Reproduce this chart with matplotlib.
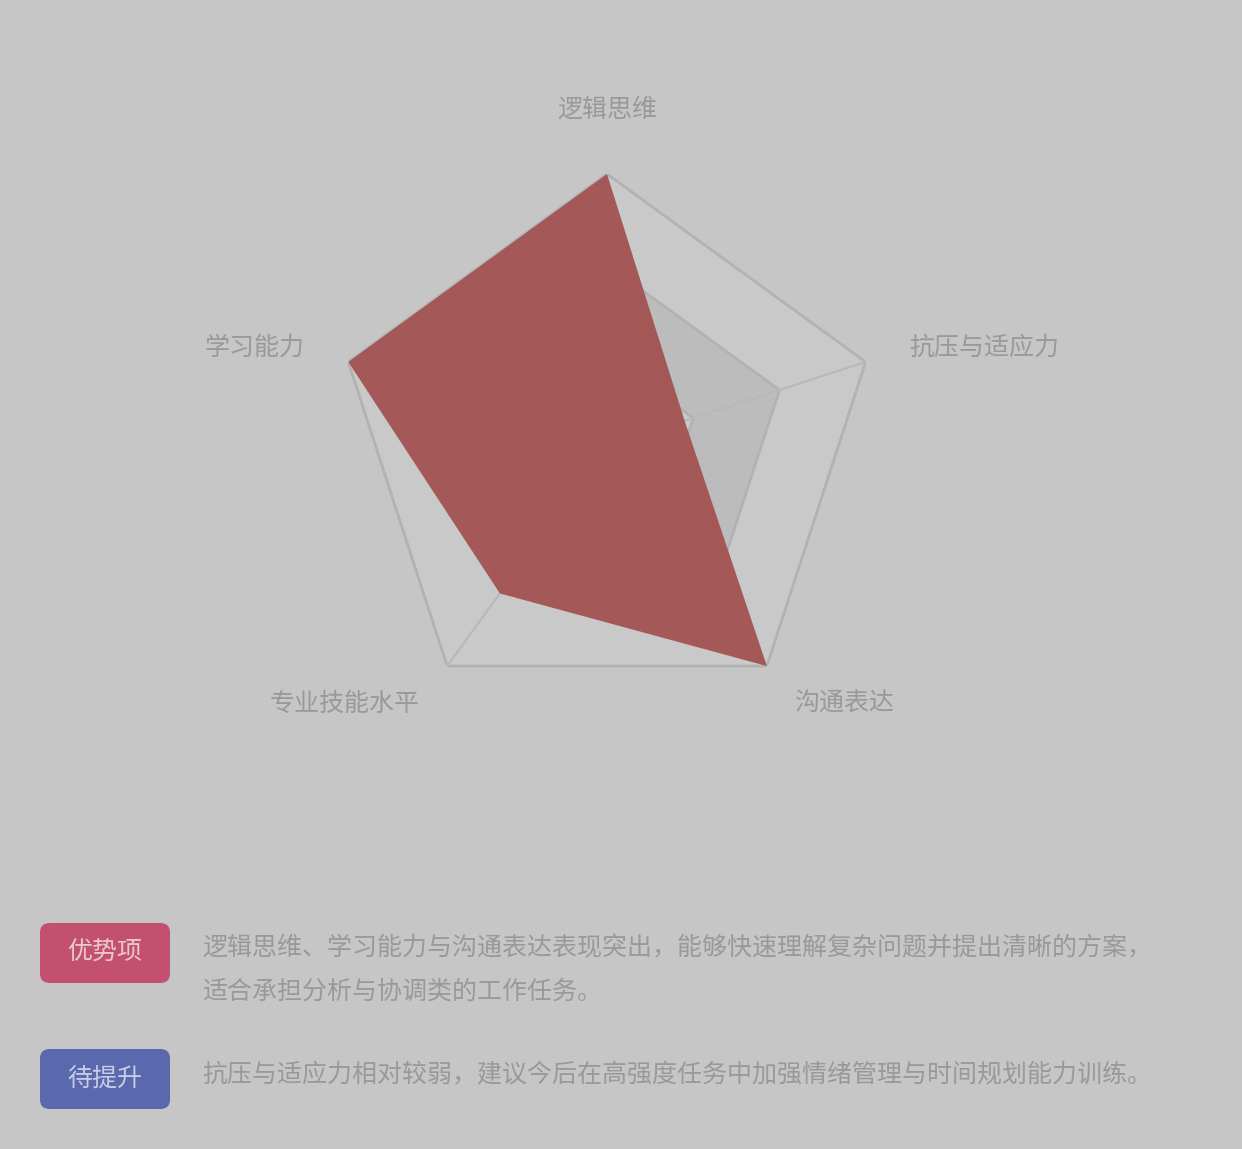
import matplotlib.pyplot as plt
import numpy as np
import matplotlib
from matplotlib.patches import FancyBboxPatch

matplotlib.rcParams['font.family'] = ['Noto Sans CJK SC', 'DejaVu Sans']

# 数据
indicators = ['逻辑思维', '抗压与适应力', '沟通表达', '专业技能水平', '学习能力']
scores = [100, 30, 100, 67, 100]
max_score = 100
levels = [1 / 3, 2 / 3, 1.0]

legend_tags = ['优势项', '待提升']
legend_texts = [
    '逻辑思维、学习能力与沟通表达表现突出，能够快速理解复杂问题并提出清晰的方案，\n适合承担分析与协调类的工作任务。',
    '抗压与适应力相对较弱，建议今后在高强度任务中加强情绪管理与时间规划能力训练。',
]
legend_colors = ['#c4506f', '#5a68ad']

bg = '#c6c6c6'
W, H = 1242, 1149
fig = plt.figure(figsize=(W / 100, H / 100), dpi=100, facecolor=bg)

cx, cy, R = 607, 446, 272
ax = fig.add_axes([(cx - R) / W, (H - cy - R) / H, 2 * R / W, 2 * R / H],
                  projection='polar')
ax.set_facecolor('none')
ax.set_theta_offset(np.pi / 2)
ax.set_theta_direction(-1)
ax.set_ylim(0, 1)
ax.grid(False)
ax.spines['polar'].set_visible(False)
ax.set_xticks([])
ax.set_yticks([])

n = len(indicators)
angles = np.linspace(0, 2 * np.pi, n, endpoint=False)
ang = np.concatenate([angles, angles[:1]])

# 分隔区域（交替底色）
band_colors = ['#c9c9c9', '#bcbcbc', '#c9c9c9']
inner = 0
for lv, c in zip(levels, band_colors):
    th = np.concatenate([ang, ang[::-1]])
    rr = np.concatenate([[lv] * (n + 1), [inner] * (n + 1)])
    ax.fill(th, rr, color=c, lw=0, zorder=1)
    inner = lv
for lv in levels:
    ax.plot(ang, [lv] * (n + 1), color='#b2b2b2', lw=2, zorder=2)
for a in angles:
    ax.plot([a, a], [0, 1], color='#b8b8b8', lw=1.5, zorder=2)

vals = np.array(scores) / max_score
vals = np.concatenate([vals, vals[:1]])
ax.fill(ang, vals, color='#a35454', alpha=0.97, lw=0, zorder=3)

# 指标名称
label_pos = [(1.235, 'center'), (1.17, 'left'), (1.17, 'left'), (1.17, 'right'), (1.17, 'right')]
for a, name, (r, ha) in zip(angles, indicators, label_pos):
    ax.text(a, r, name, ha=ha, va='center', fontsize=18, color='#999999')

# 图例说明
badge_y = [953, 1079]
text_y = [970, 1075]
for tag, txt, col, by, ty in zip(legend_tags, legend_texts, legend_colors, badge_y, text_y):
    x0, w, h = 40, 130, 60
    box = FancyBboxPatch(((x0) / W, (H - by - h / 2) / H), w / W, h / H,
                         boxstyle='round,pad=0,rounding_size=0.008',
                         transform=fig.transFigure, facecolor=col, edgecolor='none')
    fig.patches.append(box)
    fig.text((x0 + w / 2) / W, (H - by) / H, tag, ha='center', va='center',
             fontsize=18, color='#e8c8d0' if col == legend_colors[0] else '#c8cce6')
    fig.text(202 / W, (H - ty) / H, txt, ha='left', va='center', fontsize=18,
             color='#999999', linespacing=1.9)

fig.savefig('out.png', dpi=100, facecolor=bg)
